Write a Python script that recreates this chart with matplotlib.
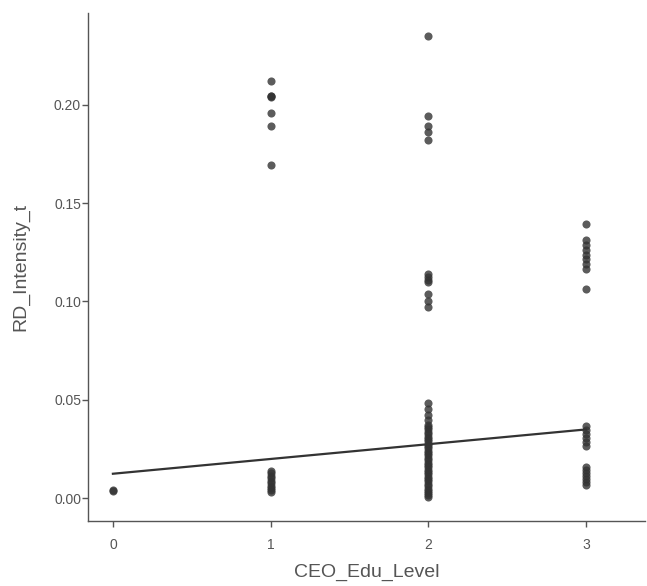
import matplotlib
matplotlib.use("Agg")
import matplotlib.pyplot as plt
import numpy as np

plt.rcParams['font.family'] = ['Liberation Sans', 'DejaVu Sans']

# Data
edu_0 = [0.0040, 0.0035]
edu_1 = [0.2119, 0.2046, 0.2046, 0.2040, 0.1956, 0.1889, 0.1695,
         0.0140, 0.0128, 0.0115, 0.0102, 0.0090, 0.0078, 0.0065, 0.0052, 0.0040, 0.0030]
edu_2 = [0.2348, 0.1940, 0.1890, 0.1860, 0.1822,
         0.1140, 0.1125, 0.1110, 0.1100, 0.1040, 0.1000, 0.0970,
         0.0485, 0.0455, 0.0425, 0.0400, 0.0375, 0.0362,
         0.0350, 0.0338, 0.0326, 0.0314, 0.0302, 0.0290, 0.0278, 0.0266, 0.0254,
         0.0242, 0.0230, 0.0218, 0.0206, 0.0194, 0.0182, 0.0170, 0.0158, 0.0146,
         0.0134, 0.0122, 0.0110, 0.0098, 0.0086, 0.0074, 0.0062, 0.0050, 0.0038,
         0.0026, 0.0015, 0.0008]
edu_3 = [0.1395, 0.1310, 0.1285, 0.1260, 0.1235, 0.1215, 0.1190, 0.1165, 0.1065,
         0.0365, 0.0345, 0.0325, 0.0305, 0.0285, 0.0265,
         0.0160, 0.0145, 0.0130, 0.0115, 0.0100, 0.0085, 0.0070]
levels = [0, 1, 2, 3]
groups = [edu_0, edu_1, edu_2, edu_3]

fit_intercept = 0.0125
fit_slope = 0.0075

x_ticks = [0, 1, 2, 3]
y_ticks = [0.00, 0.05, 0.10, 0.15, 0.20]
y_tick_labels = ["0.00", "0.05", "0.10", "0.15", "0.20"]

W, H = 647, 586
fig = plt.figure(figsize=(W / 100, H / 100), dpi=100)
ax = fig.add_axes([88 / W, (H - 521) / H, (645 - 88) / W, (521 - 13) / H])

xs = np.concatenate([[lv] * len(g) for lv, g in zip(levels, groups)])
ys = np.concatenate(groups)
ax.scatter(xs, ys, s=34, color='#333333', alpha=0.8, linewidths=0, zorder=2)

xl = np.array([0, 3])
ax.plot(xl, fit_intercept + fit_slope * xl, color='#333333', lw=1.6, zorder=3)

ax.set_xlim(-0.158, 3.375)
ax.set_ylim(-0.0115, 0.2465)
ax.set_xticks(x_ticks)
ax.set_yticks(y_ticks)
ax.set_yticklabels(y_tick_labels)

for s in ['top', 'right']:
    ax.spines[s].set_visible(False)
for s in ['left', 'bottom']:
    ax.spines[s].set_color('#555555')
    ax.spines[s].set_linewidth(1.0)

ax.tick_params(axis='both', colors='#555555', labelcolor='#555555', labelsize=10,
               length=4, width=1.0)
ax.tick_params(axis='y', pad=1)
ax.tick_params(axis='x', pad=8.5)
ax.set_xlabel("CEO_Edu_Level", fontsize=14, color='#555555', labelpad=8)
ax.set_ylabel("RD_Intensity_t", fontsize=14, color='#555555', labelpad=18)

fig.savefig("out.png", dpi=100)
